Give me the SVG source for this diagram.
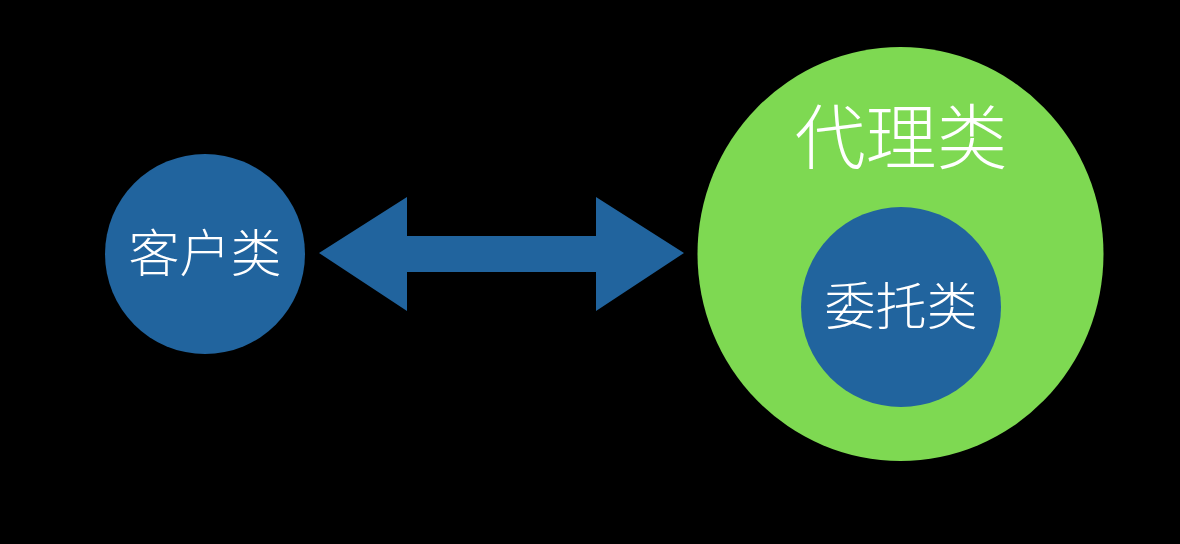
<svg xmlns="http://www.w3.org/2000/svg" width="1180" height="544" viewBox="0 0 1180 544">
<style>
.blue{fill:#21649e}
.green{fill:#7ed952}
.lbl{fill:#ffffff;font-family:"Noto Sans CJK SC","Noto Sans",sans-serif;font-weight:300;text-anchor:middle}
</style>
<rect x="0" y="0" width="1180" height="544" fill="#000000"/>
<g id="connectors">
<path class="blue" d="M319,253 L407,197 L407,236 L596,236 L596,197 L684,253 L596,311 L596,272 L407,272 L407,311 Z"/>
</g>
<g id="client">
<circle class="blue" cx="205" cy="254" r="100"/>
<text class="lbl" x="205" y="272" font-size="51">客户类</text>
</g>
<g id="proxy">
<ellipse class="green" cx="900.5" cy="254" rx="203" ry="207"/>
<text class="lbl" x="901" y="163" font-size="71">代理类</text>
</g>
<g id="delegate">
<circle class="blue" cx="901" cy="307" r="100"/>
<text class="lbl" x="901" y="325" font-size="51">委托类</text>
</g>
</svg>
